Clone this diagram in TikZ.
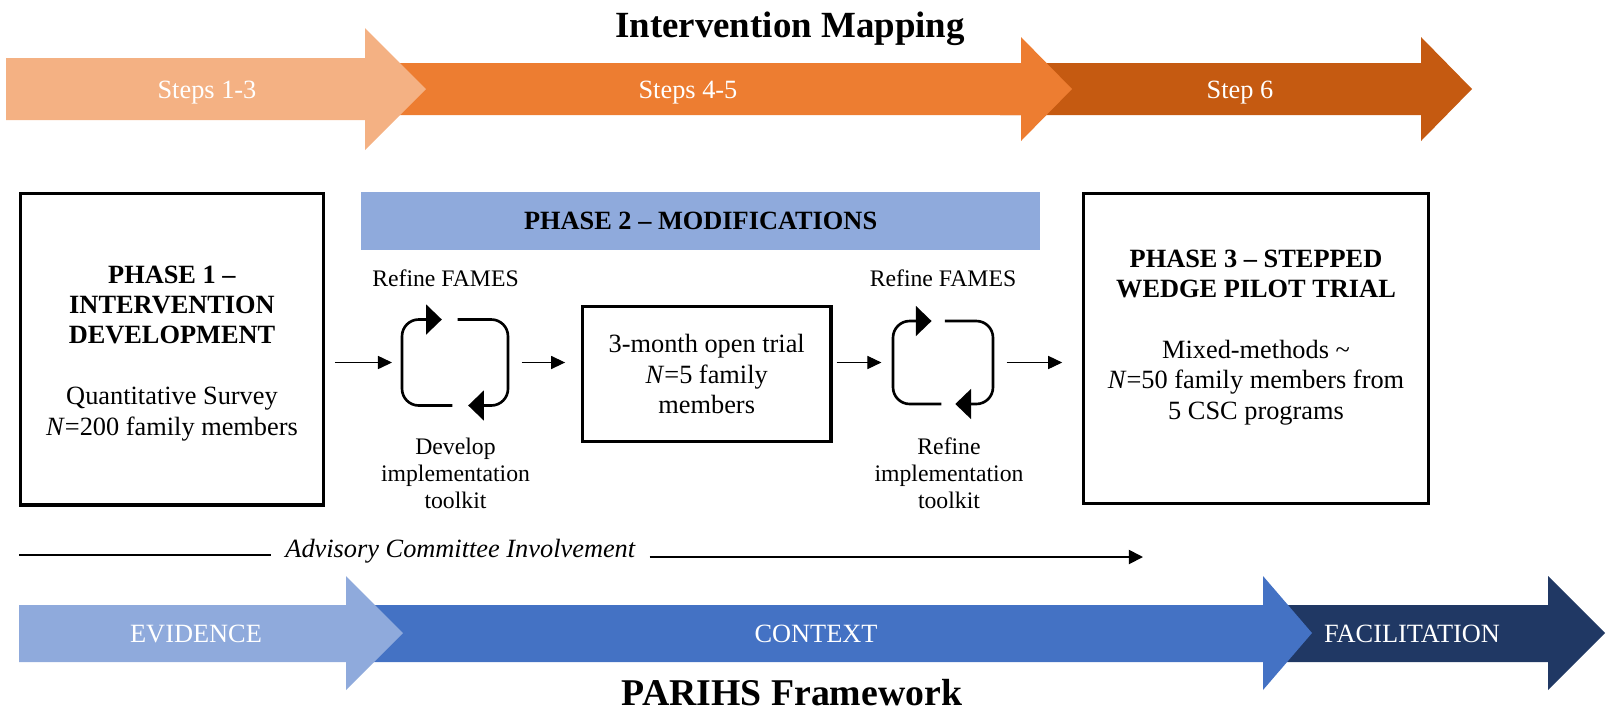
\documentclass[tikz,border=0pt]{standalone}
\usepackage{fontspec}
\setmainfont{Liberation Serif}
\usetikzlibrary{arrows.meta}
\definecolor{stepA}{HTML}{F4B183}
\definecolor{stepB}{HTML}{ED7D31}
\definecolor{stepC}{HTML}{C55A11}
\definecolor{parA}{HTML}{8FAADC}
\definecolor{parB}{HTML}{4472C4}
\definecolor{parC}{HTML}{203864}
\tikzset{
	body/.style={font=\fontsize{15}{17.3}\selectfont, align=center, inner sep=0pt},
	bandtext/.style={font=\fontsize{15}{17.3}\selectfont, text=white, anchor=base, inner sep=0pt},
	phasebox/.style={draw, line width=1.8pt, outer sep=0pt, inner sep=0pt},
	cyc/.style={outer sep=0pt, inner sep=0pt},
	cyclab/.style={font=\fontsize{13.5}{15.4}\selectfont, align=center, anchor=base, inner sep=0pt},
	conn/.style={-{Triangle[length=8pt,width=7.5pt]}, line width=0.6pt},
	loopline/.style={line width=1.5pt, rounded corners=9.5pt, -{Triangle[length=9pt,width=17pt]}},
	title/.style={font=\bfseries\fontsize{21}{25}\selectfont, anchor=base, inner sep=0pt},
}
\begin{document}
\begin{tikzpicture}[x=0.02cm, y=-0.02cm]
	\useasboundingbox (0,0) rectangle (1606,711);
	\fill[stepC] (1000,63) -- (1421,63) -- (1421,37) -- (1472,89) -- (1421,141) -- (1421,115) -- (1000,115) -- cycle;
	\fill[stepB] (380,63) -- (1021,63) -- (1021,37) -- (1072,89) -- (1021,141) -- (1021,115) -- (380,115) -- cycle;
	\fill[stepA] (6,58) -- (365,58) -- (365,28) -- (426,89) -- (365,150) -- (365,120) -- (6,120) -- cycle;
	\fill[parC] (1280,605) -- (1548,605) -- (1548,576) -- (1605,633) -- (1548,690) -- (1548,662) -- (1280,662) -- cycle;
	\fill[parB] (360,605) -- (1263,605) -- (1263,576) -- (1312,633) -- (1263,690) -- (1263,662) -- (360,662) -- cycle;
	\fill[parA] (19,605) -- (346,605) -- (346,576) -- (403,633) -- (346,690) -- (346,662) -- (19,662) -- cycle;
	\node[bandtext] (s13) at (207,98) {Steps 1-3};
	\node[bandtext] (s45) at (688,98) {Steps 4-5};
	\node[bandtext] (s6) at (1240,98) {Step 6};
	\node[bandtext] (evid) at (196,642.5) {EVIDENCE};
	\node[bandtext] (ctx) at (816,642.5) {CONTEXT};
	\node[bandtext] (facil) at (1412,642.5) {FACILITATION};
	\node[title] (im) at (790,37) {Intervention Mapping};
	\node[title, font=\bfseries\fontsize{21.5}{25}\selectfont] (parihs) at (792,705) {PARIHS Framework};
	\node[fill=parA, minimum width=13.58cm, minimum height=1.15cm, inner sep=0pt, font=\bfseries\fontsize{15}{17.3}\selectfont] (ph2) at (700.6,221.2) {PHASE 2 -- MODIFICATIONS};
	\node[phasebox, minimum width=6.05cm, minimum height=6.23cm] (ph1) at (172,349.2) {};
	\node[body, anchor=base] (ph1txt) at (172,435) {\textbf{PHASE 1 --}\\\textbf{INTERVENTION}\\\textbf{DEVELOPMENT}\\[17.3pt]Quantitative Survey\\\textit{N}=200 family members};
	\node[phasebox, minimum width=6.91cm, minimum height=6.2cm] (ph3) at (1256,348.3) {};
	\node[body, anchor=base] (ph3txt) at (1256,419.3) {\textbf{PHASE 3 -- STEPPED}\\\textbf{WEDGE PILOT TRIAL}\\[17.3pt]Mixed-methods \textasciitilde\\\textit{N}=50 family members from\\5 CSC programs};
	\node[phasebox, body, minimum width=4.97cm, minimum height=2.7cm] (trial) at (706.7,374.2) {3-month open trial\\\textit{N}=5 family\\members};
	\node[cyc, minimum width=2.12cm, minimum height=1.72cm] (cyc1) at (455,362.5) {};
	\node[cyc, minimum width=2.0cm, minimum height=1.66cm] (cyc2) at (943,362.5) {};
	\draw[loopline] ([xshift=-1.5pt]cyc1.south) -- (cyc1.south west) -- (cyc1.north west) -- ([xshift=-7.5pt]cyc1.north);
	\draw[loopline] ([xshift=1.5pt]cyc1.north) -- (cyc1.north east) -- (cyc1.south east) -- ([xshift=7.5pt]cyc1.south);
	\draw[loopline] ([xshift=-1pt]cyc2.south) -- (cyc2.south west) -- (cyc2.north west) -- ([xshift=-6.5pt]cyc2.north);
	\draw[loopline] ([xshift=1pt]cyc2.north) -- (cyc2.north east) -- (cyc2.south east) -- ([xshift=7pt]cyc2.south);
	\node[cyclab] (fames1) at (445.5,286) {Refine FAMES};
	\node[cyclab] (fames2) at (943,286) {Refine FAMES};
	\node[cyclab] (kit1) at (455.5,508.3) {Develop\\implementation\\toolkit};
	\node[cyclab] (kit2) at (949,508.3) {Refine\\implementation\\toolkit};
	\draw[conn, shorten <=6.6pt, shorten >=5.7pt] (ph1.east |- cyc1.center) -- (cyc1.west);
	\draw[conn, shorten <=7.8pt, shorten >=9.9pt] (cyc1.east) -- (trial.west |- cyc1.center);
	\draw[conn, shorten <=3.2pt, shorten >=6.6pt] (trial.east |- cyc2.center) -- (cyc2.west);
	\draw[conn, shorten <=7.8pt, shorten >=12pt] (cyc2.east) -- (ph3.west |- cyc2.center);
	\node[font=\itshape\fontsize{15}{17.3}\selectfont, anchor=base, inner xsep=8pt, inner ysep=0pt] (adv) at (460.3,557.7) {Advisory Committee Involvement};
	\coordinate (advL) at (19,555);
	\coordinate (advR) at (1143,557);
	\draw[line width=1pt] (advL) -- (adv.west |- advL);
	\draw[line width=1pt, -{Triangle[length=8pt,width=8pt]}] (adv.east |- advR) -- (advR);
\end{tikzpicture}
\end{document}
